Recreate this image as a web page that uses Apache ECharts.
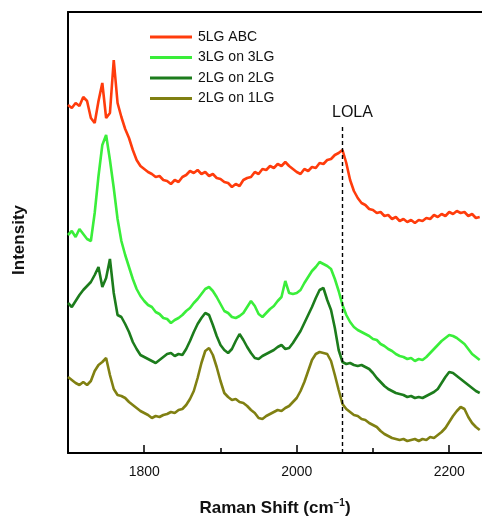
<!DOCTYPE html>
<html lang="en">
<head>
    <meta charset="UTF-8">
    <title>Raman LOLA</title>
    <style>
        html, body { margin: 0; padding: 0; background: #fff; }
        #div_raman { width: 482px; height: 522px; }
    </style>
</head>
<body>
    <div id="div_raman"></div>
</body>
<script src="https://cdn.jsdelivr.net/npm/echarts@6/dist/echarts.min.js"></script>
<script type="text/javascript">
    // Raman shift sampling: 1700 .. 2240 cm-1, every 5 cm-1
    var shiftStart = 1700;
    var shiftStep = 5;
    var legendNames = ['5LG ABC', '3LG on 3LG', '2LG on 2LG', '2LG on 1LG'];
    var tickMajor = [1800, 2000, 2200];
    var tickMinor = [1900, 2100];
    var lolaShift = 2060;

    // intensities (arbitrary units, offset stacked as in the figure)
    var spec5LG = [348, 345, 350, 347, 356, 352, 335, 330, 352, 370, 335, 340, 393, 350, 336, 324, 315, 303, 293, 287,
        284, 281, 279, 276, 277, 273, 272, 269, 273, 271, 276, 278, 282, 280, 283, 279, 281, 277, 279, 275,
        274, 271, 270, 266, 269, 267, 273, 275, 276, 281, 279, 284, 283, 287, 285, 289, 287, 291, 287, 284,
        281, 279, 284, 282, 286, 285, 290, 289, 293, 294, 298, 300, 303, 290, 273, 262, 255, 250, 248, 244,
        243, 240, 241, 237, 238, 234, 236, 232, 234, 231, 233, 230, 233, 232, 235, 234, 238, 236, 239, 237,
        241, 239, 242, 240, 241, 237, 239, 235, 236];
    var spec3on3 = [218, 222, 216, 224, 219, 214, 212, 240, 277, 308, 318, 293, 265, 234, 212, 198, 186, 174, 164, 157,
        152, 148, 146, 141, 139, 135, 134, 130, 133, 135, 138, 142, 145, 150, 154, 159, 164, 166, 162, 156,
        149, 142, 140, 136, 135, 137, 140, 146, 152, 147, 139, 136, 140, 144, 147, 152, 156, 172, 160, 159,
        160, 163, 170, 176, 182, 186, 191, 189, 187, 184, 174, 162, 148, 138, 131, 126, 123, 121, 119, 117,
        114, 113, 109, 107, 104, 102, 99, 97, 96, 94, 95, 92, 94, 93, 96, 100, 104, 108, 112, 115,
        118, 117, 115, 112, 109, 104, 99, 96, 93];
    var spec2on2 = [150, 146, 152, 158, 163, 167, 171, 178, 186, 166, 175, 194, 160, 138, 136, 129, 121, 111, 104, 98,
        96, 94, 92, 90, 93, 96, 99, 100, 97, 99, 98, 104, 112, 121, 129, 135, 140, 138, 128, 117,
        108, 103, 100, 104, 112, 119, 113, 106, 100, 95, 94, 97, 99, 101, 103, 106, 108, 104, 105, 110,
        116, 122, 130, 138, 146, 155, 163, 165, 153, 143, 125, 103, 91, 89, 90, 88, 87, 88, 86, 84,
        80, 75, 71, 67, 64, 62, 60, 59, 58, 56, 57, 55, 56, 55, 57, 59, 61, 64, 70, 76,
        81, 80, 77, 74, 71, 68, 65, 62, 60];
    var spec2on1 = [76, 73, 70, 68, 71, 68, 72, 82, 88, 91, 95, 78, 64, 58, 57, 55, 51, 48, 45, 42,
        40, 38, 35, 37, 36, 38, 39, 41, 40, 43, 44, 48, 54, 62, 75, 90, 102, 105, 98, 86,
        72, 60, 56, 53, 54, 51, 50, 47, 43, 40, 35, 34, 37, 39, 41, 43, 42, 45, 47, 51,
        55, 62, 71, 82, 93, 99, 101, 100, 99, 92, 78, 63, 49, 44, 41, 38, 37, 34, 33, 30,
        28, 26, 22, 19, 17, 15, 14, 13, 14, 12, 13, 14, 12, 14, 13, 16, 15, 18, 21, 25,
        31, 37, 42, 46, 44, 36, 30, 26, 23];

    var colors = ['#ff3c0c', '#3aee3a', '#1c7c1c', '#808012'];
    var FONT = '"Liberation Sans", Arial, sans-serif';

    function toPairs(values) {
        var out = [];
        for (var i = 0; i < values.length; i++) {
            out.push([shiftStart + i * shiftStep, values[i]]);
        }
        return out;
    }

    function lineSeries(name, values, color) {
        return {
            name: name,
            type: 'line',
            data: toPairs(values),
            symbol: 'none',
            lineStyle: { color: color, width: 2.6 },
            itemStyle: { color: color },
            silent: true
        };
    }

    window.onload = function () {
        var series = [
            lineSeries(legendNames[0], spec5LG, colors[0]),
            lineSeries(legendNames[1], spec3on3, colors[1]),
            lineSeries(legendNames[2], spec2on2, colors[2]),
            lineSeries(legendNames[3], spec2on1, colors[3])
        ];
        // LOLA marker
        series[0].markLine = {
            silent: true,
            symbol: ['none', 'none'],
            lineStyle: { color: '#000', type: [4, 3], width: 1.4 },
            label: {
                show: true, position: 'end', formatter: 'LOLA',
                color: '#111', fontSize: 16, fontFamily: FONT, distance: 6, offset: [10, 0]
            },
            data: [[{ coord: [lolaShift, 0] }, { coord: [lolaShift, 326] }]]
        };

        var option = {
            animation: false,
            backgroundColor: '#fff',
            grid: { left: 68, right: 0, top: 12, bottom: 69 },
            legend: {
                data: legendNames,
                orient: 'vertical',
                left: 145,
                top: 25,
                itemWidth: 42,
                itemHeight: 3,
                itemGap: 6.5,
                icon: 'rect',
                textStyle: { fontSize: 14, color: '#111', fontFamily: FONT, padding: [0, 0, 0, 1] }
            },
            xAxis: [{
                type: 'value', min: 1700, max: 2243, interval: 100,
                axisLine: { lineStyle: { color: '#000', width: 2 } },
                axisTick: { show: true, inside: true, length: 8, customValues: tickMajor, lineStyle: { color: '#000', width: 1.5 } },
                axisLabel: {
                    customValues: tickMajor, fontSize: 14, color: '#111', fontFamily: FONT, margin: 12,
                    formatter: function (v) { return String(v); }
                },
                splitLine: { show: false },
                name: '{b|Raman Shift (cm}{s|\u22121}{b|)}',
                nameLocation: 'middle',
                nameGap: 45,
                nameTextStyle: {
                    rich: {
                        b: { fontSize: 17, fontWeight: 'bold', color: '#111', fontFamily: FONT },
                        s: { fontSize: 10, fontWeight: 'bold', color: '#111', fontFamily: FONT, verticalAlign: 'top', padding: [0, 0, 10, 0] }
                    }
                }
            }, {
                type: 'value', min: 1700, max: 2243, interval: 100, position: 'bottom',
                axisLine: { show: false },
                axisTick: { show: true, inside: true, length: 5, customValues: tickMinor, lineStyle: { color: '#000', width: 1.5 } },
                axisLabel: { show: false },
                splitLine: { show: false }
            }, {
                type: 'value', min: 1700, max: 2243, interval: 100, position: 'top',
                axisLine: { lineStyle: { color: '#000', width: 2 } },
                axisTick: { show: false },
                axisLabel: { show: false },
                splitLine: { show: false }
            }],
            yAxis: {
                type: 'value', min: 0, max: 441,
                axisLine: { show: true, lineStyle: { color: '#000', width: 2 } },
                axisTick: { show: false },
                axisLabel: { show: false },
                splitLine: { show: false }
            },
            graphic: [{
                type: 'text',
                left: 11,
                top: 205,
                rotation: Math.PI / 2,
                style: { text: 'Intensity', fontSize: 17, fontWeight: 'bold', fill: '#111', fontFamily: FONT }
            }],
            series: series
        };
        var echart = echarts.init(document.getElementById('div_raman'));
        echart.setOption(option);
    };
</script>
</html>
